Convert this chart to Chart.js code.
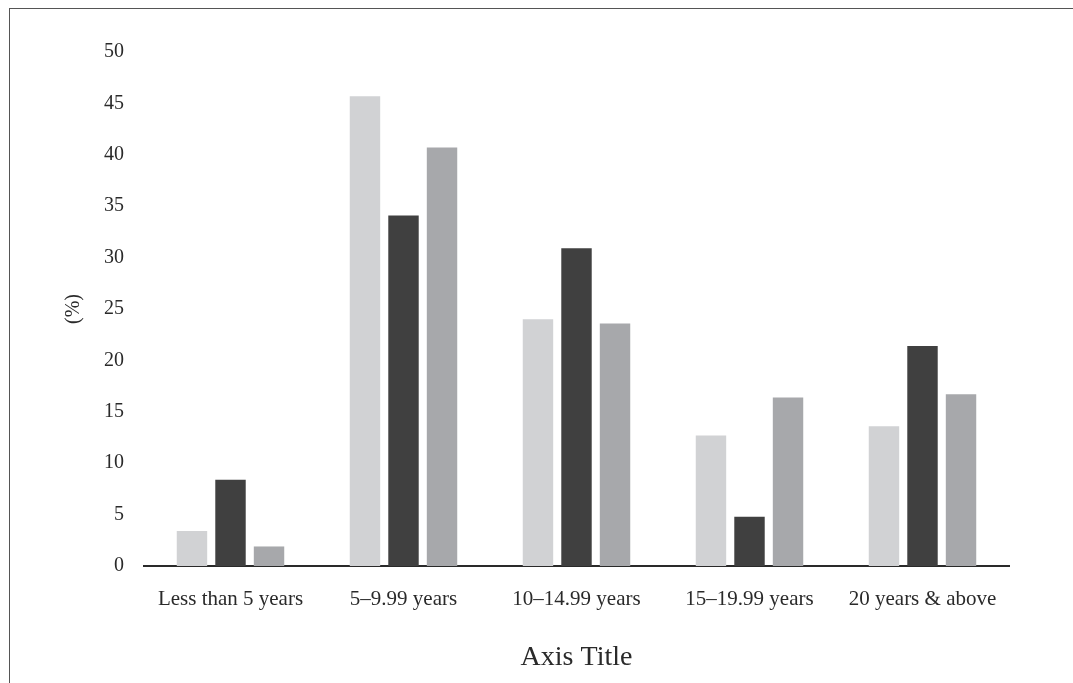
<!DOCTYPE html>
<html>
<head>
<meta charset="utf-8">
<script src="https://cdn.jsdelivr.net/npm/chart.js@4/dist/chart.umd.min.js"></script>
<style>
  html, body { margin: 0; padding: 0; background: #fff; }
  #wrap { position: relative; width: 1073px; height: 683px; overflow: hidden; }
  #frame { position: absolute; left: 9px; top: 8px; width: 1100px; height: 700px;
           border-left: 1.5px solid #555; border-top: 1.5px solid #555; box-sizing: border-box; }
  canvas { position: absolute; left: 0; top: 0; }
</style>
</head>
<body>
<div id="wrap">
  <div id="frame"></div>
  <canvas id="chart" width="1073" height="683"></canvas>
</div>
<script>
// Categories and the three series (in %)
const categories = ['Less than 5 years', '5\u20139.99 years', '10\u201314.99 years', '15\u201319.99 years', '20 years & above'];
const seriesLight = [3.4, 45.7, 24.0, 12.7, 13.6];
const seriesDark = [8.4, 34.1, 30.9, 4.8, 21.4];
const seriesMid = [1.9, 40.7, 23.6, 16.4, 16.7];
const yTicks = [0, 5, 10, 15, 20, 25, 30, 35, 40, 45, 50];

const serif = "'Liberation Serif', 'DejaVu Serif', serif";

function makeSet(data, color) {
    return {
        data: data,
        backgroundColor: color,
        borderWidth: 0,
        categoryPercentage: 0.668,
        barPercentage: 0.79
    };
}

const ctx = document.getElementById('chart').getContext('2d');
new Chart(ctx, {
    type: 'bar',
    data: {
        labels: categories,
        datasets: [
            makeSet(seriesLight, '#d1d2d4'),
            makeSet(seriesDark, '#404040'),
            makeSet(seriesMid, '#a7a8ab')
        ]
    },
    options: {
        responsive: false,
        animation: false,
        layout: { padding: { top: 52, right: 64, left: 0, bottom: 0 } },
        plugins: {
            legend: { display: false },
            tooltip: { enabled: false }
        },
        scales: {
            x: {
                grid: { display: false, drawTicks: false },
                border: { display: true, color: '#2a2a2a', width: 2 },
                ticks: { color: '#2a2a2a', font: { family: serif, size: 21 }, padding: 21, maxRotation: 0 },
                title: { display: true, text: 'Axis Title', color: '#2a2a2a',
                         font: { family: serif, size: 28 }, padding: { top: 9, bottom: 9 } },
                afterFit: (scale) => { scale.height = 117; }
            },
            y: {
                min: 0,
                max: 50,
                afterBuildTicks: (scale) => { scale.ticks = yTicks.map(v => ({ value: v })); },
                grid: { display: false, drawTicks: false },
                border: { display: false },
                ticks: { color: '#2a2a2a', font: { family: serif, size: 20 }, padding: 20 },
                title: { display: true, text: '(%)', color: '#2a2a2a',
                         font: { family: serif, size: 20 }, padding: { top: 62, bottom: 0 } },
                afterFit: (scale) => { scale.width = 144; }
            }
        }
    }
});
</script>
</body>
</html>
